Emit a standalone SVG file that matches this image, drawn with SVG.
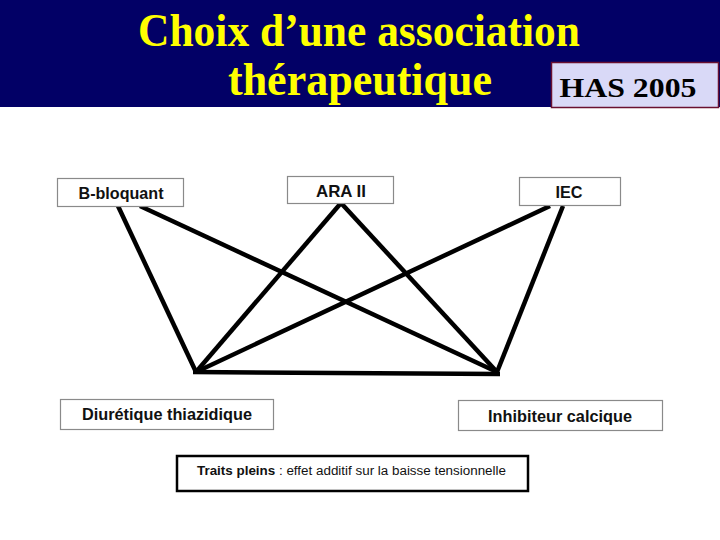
<svg xmlns="http://www.w3.org/2000/svg" width="720" height="540" viewBox="0 0 720 540">
<style>
.title{font-family:"Liberation Serif","Times New Roman",serif;font-weight:bold;fill:#ffff00;font-size:47px;text-anchor:middle}
.box{fill:#ffffff;stroke:#8a8a8a;stroke-width:1.2}
.lbl{font-family:"Liberation Sans",Arial,sans-serif;font-weight:bold;font-size:16.5px;fill:#111;text-anchor:middle}
.edge{stroke:#000;stroke-width:4.5;stroke-linecap:butt;fill:none}
</style>
<rect x="0" y="0" width="720" height="540" fill="#ffffff"/>
<g id="header">
<rect x="0" y="0" width="720" height="107" fill="#020066"/>
<text class="title" x="359" y="46" textLength="442" lengthAdjust="spacingAndGlyphs">Choix d’une association</text>
<text class="title" x="360" y="95" textLength="264" lengthAdjust="spacingAndGlyphs">thérapeutique</text>
</g>
<g id="has2005">
<rect x="551.5" y="62.5" width="167" height="45" fill="#d9d9f7" stroke="#6a1030" stroke-width="1.5"/>
<text x="628" y="97" font-family="'Liberation Serif','Times New Roman',serif" font-weight="bold" font-size="27" fill="#000" text-anchor="middle" textLength="137" lengthAdjust="spacingAndGlyphs">HAS 2005</text>
</g>
<g id="connectors">
<line class="edge" x1="118" y1="206" x2="196" y2="372"/>
<line class="edge" x1="140" y1="206" x2="497" y2="372"/>
<line class="edge" x1="341" y1="203" x2="196" y2="372"/>
<line class="edge" x1="341" y1="203" x2="497" y2="372"/>
<line class="edge" x1="550" y1="206" x2="196" y2="372"/>
<line class="edge" x1="563" y1="206" x2="497" y2="372"/>
<line class="edge" x1="193" y1="372" x2="500" y2="374"/>
</g>
<g id="b-bloquant">
<rect class="box" x="57.5" y="178.5" width="126" height="28"/>
<text class="lbl" x="121" y="199" textLength="85" lengthAdjust="spacingAndGlyphs">B-bloquant</text>
</g>
<g id="ara-ii">
<rect class="box" x="287.5" y="176.5" width="106" height="27"/>
<text class="lbl" x="341" y="197" textLength="50" lengthAdjust="spacingAndGlyphs">ARA II</text>
</g>
<g id="iec">
<rect class="box" x="519.5" y="177.5" width="101" height="28"/>
<text class="lbl" x="569" y="198" textLength="27" lengthAdjust="spacingAndGlyphs">IEC</text>
</g>
<g id="diuretique">
<rect class="box" x="60.5" y="399.5" width="213" height="30"/>
<text class="lbl" x="167" y="420" font-size="15.5" textLength="170" lengthAdjust="spacingAndGlyphs">Diurétique thiazidique</text>
</g>
<g id="inhibiteur">
<rect class="box" x="458.5" y="400.5" width="204" height="30"/>
<text class="lbl" x="560" y="422" font-size="15.5" textLength="144" lengthAdjust="spacingAndGlyphs">Inhibiteur calcique</text>
</g>
<g id="legend">
<rect x="177" y="456" width="351" height="35" fill="#ffffff" stroke="#000" stroke-width="2.5"/>
<text x="197" y="475" font-family="'Liberation Sans',Arial,sans-serif" font-size="12.5" fill="#111" textLength="309" lengthAdjust="spacingAndGlyphs"><tspan font-weight="bold">Traits pleins</tspan> : effet additif sur la baisse tensionnelle</text>
</g>
</svg>
